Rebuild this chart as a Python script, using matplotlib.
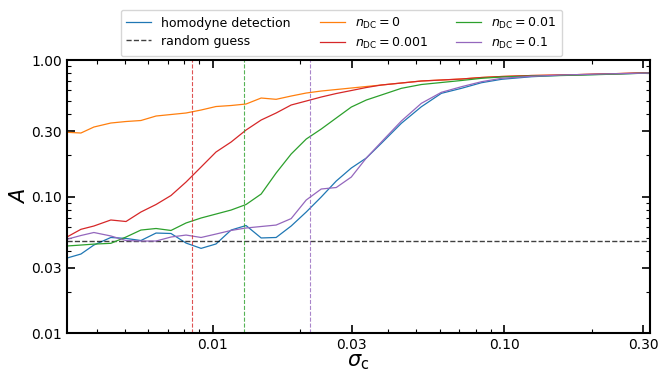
import numpy as np
import matplotlib
matplotlib.use("Agg")
import matplotlib.pyplot as plt
from matplotlib.ticker import FixedLocator, FixedFormatter, NullFormatter

# sigma_c grid (shared by all curves)
sigma = [0.00316, 0.00353, 0.00391, 0.00447, 0.00504, 0.00567, 0.00639, 0.00719,
         0.00810, 0.00912, 0.01026, 0.01156, 0.01301, 0.01466, 0.01650, 0.01858,
         0.02093, 0.02356, 0.02653, 0.02988, 0.03364, 0.03788, 0.04437, 0.05197,
         0.06087, 0.07132, 0.08356, 0.09788, 0.1241, 0.1573, 0.2160, 0.316]

A_homodyne = [0.0354, 0.0379, 0.0441, 0.0501, 0.0493, 0.0476, 0.0540, 0.0536,
              0.0456, 0.0417, 0.0449, 0.0568, 0.0613, 0.0497, 0.0501, 0.0608,
              0.0770, 0.0992, 0.1299, 0.1617, 0.1914, 0.2453, 0.3438, 0.4548,
              0.5702, 0.6203, 0.6820, 0.7222, 0.7544, 0.7726, 0.7857, 0.8031]

A_n0 = [0.2954, 0.2919, 0.3229, 0.3455, 0.3544, 0.3604, 0.3888, 0.3988,
        0.4091, 0.4302, 0.4563, 0.4642, 0.4761, 0.5267, 0.5153, 0.5447,
        0.5730, 0.5927, 0.6079, 0.6235, 0.6395, 0.6559, 0.6785, 0.7019,
        0.7138, 0.7259, 0.7445, 0.7571, 0.7699, 0.7765, 0.7897, 0.8070]

A_n0001 = [0.0505, 0.0575, 0.0608, 0.0673, 0.0656, 0.0770, 0.0874, 0.1017,
           0.1277, 0.1645, 0.2118, 0.2507, 0.3070, 0.3635, 0.4091, 0.4682,
           0.5007, 0.5357, 0.5683, 0.5977, 0.6289, 0.6559, 0.6785, 0.7019,
           0.7138, 0.7259, 0.7445, 0.7571, 0.7699, 0.7765, 0.7897, 0.8070]

A_n001 = [0.0434, 0.0441, 0.0448, 0.0454, 0.0505, 0.0568, 0.0583, 0.0564,
          0.0640, 0.0696, 0.0744, 0.0796, 0.0874, 0.1043, 0.1487, 0.2048,
          0.2637, 0.3122, 0.3759, 0.4524, 0.5093, 0.5541, 0.6203, 0.6615,
          0.6843, 0.7078, 0.7345, 0.7508, 0.7636, 0.7699, 0.7831, 0.8031]

A_n01 = [0.0486, 0.0518, 0.0545, 0.0514, 0.0476, 0.0472, 0.0472, 0.0505,
         0.0522, 0.0501, 0.0531, 0.0564, 0.0588, 0.0603, 0.0618, 0.0689,
         0.0943, 0.1135, 0.1164, 0.1389, 0.1914, 0.2507, 0.3574, 0.4817,
         0.5799, 0.6374, 0.6935, 0.7345, 0.7597, 0.7765, 0.7897, 0.8031]

random_guess = 0.0472
threshold_n0001 = 0.00847
threshold_n001 = 0.01284
threshold_n01 = 0.02163

fig = plt.figure(figsize=(6.68, 3.73), dpi=100)
ax = fig.add_axes([0.1003, 0.1072, 0.8727, 0.7319])

ax.plot(sigma, A_homodyne, color="C0", lw=0.9, label="homodyne detection")
ax.axhline(random_guess, color="k", ls="--", lw=1.0, alpha=0.75, label="random guess")
ax.plot(sigma, A_n0, color="C1", lw=0.9, label=r"$n_\mathrm{DC} = 0$")
ax.plot(sigma, A_n0001, color="C3", lw=0.9, label=r"$n_\mathrm{DC} = 0.001$")
ax.plot(sigma, A_n001, color="C2", lw=0.9, label=r"$n_\mathrm{DC} = 0.01$")
ax.plot(sigma, A_n01, color="C4", lw=0.9, label=r"$n_\mathrm{DC} = 0.1$")

ax.axvline(threshold_n0001, color="C3", ls="--", lw=0.8, alpha=0.8)
ax.axvline(threshold_n001, color="C2", ls="--", lw=0.8, alpha=0.8)
ax.axvline(threshold_n01, color="C4", ls="--", lw=0.8, alpha=0.8)

ax.set_xscale("log")
ax.set_yscale("log")
ax.set_xlim(10 ** -2.5, 10 ** -0.5)
ax.set_ylim(0.01, 1.0)

xt = [0.01, 0.03, 0.1, 0.3]
yt = [0.01, 0.03, 0.1, 0.3, 1.0]
ax.xaxis.set_major_locator(FixedLocator(xt))
ax.xaxis.set_major_formatter(FixedFormatter(["0.01", "0.03", "0.10", "0.30"]))
ax.yaxis.set_major_locator(FixedLocator(yt))
ax.yaxis.set_major_formatter(FixedFormatter(["0.01", "0.03", "0.10", "0.30", "1.00"]))
ax.xaxis.set_minor_formatter(NullFormatter())
ax.yaxis.set_minor_formatter(NullFormatter())

ax.tick_params(which="both", direction="in", top=True, right=True, labelsize=10)
ax.tick_params(which="major", length=6, width=1.2)
ax.tick_params(which="minor", length=3, width=0.8)
for s in ax.spines.values():
    s.set_linewidth(1.5)

ax.set_xlabel(r"$\sigma_\mathrm{c}$", fontsize=15, labelpad=0)
ax.set_ylabel(r"$A$", fontsize=15, labelpad=2)

fig.legend(loc="upper center", bbox_to_anchor=(0.511, 0.99), ncol=3, fontsize=9,
           columnspacing=2.3, borderpad=0.45, labelspacing=0.4)

fig.savefig("out.png", dpi=100)
